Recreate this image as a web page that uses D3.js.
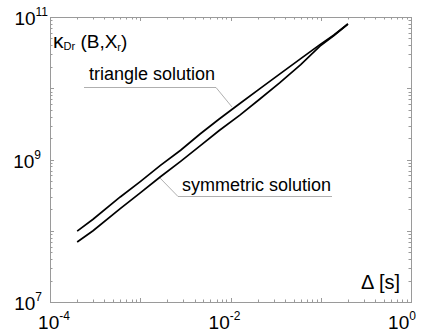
<!DOCTYPE html>
<html>
<head>
<meta charset="utf-8">
<script src="https://cdn.jsdelivr.net/npm/d3@7"></script>
<style>
  body { margin: 0; background: #fff; }
  text { font-family: "Liberation Sans", Arial, sans-serif; }
</style>
</head>
<body>
<div id="chart"></div>
<script>
// Delta [s] values where the curves were read
var deltaT = [2.0e-4, 3.0e-4, 6.0e-4, 1.0e-3, 1.66e-3, 2.8e-3, 4.6e-3, 7.5e-3, 1.27e-2, 2.1e-2, 3.5e-2, 6.0e-2, 9.8e-2, 1.4e-1, 2.0e-1];
var triangle = [9.9e7, 1.45e8, 2.98e8, 4.9e8, 8.2e8, 1.35e9, 2.28e9, 3.7e9, 6.1e9, 9.8e9, 1.58e10, 2.6e10, 4.1e10, 5.6e10, 7.98e10];
var symmetric = [6.95e7, 1.0e8, 2.05e8, 3.4e8, 5.68e8, 9.4e8, 1.55e9, 2.55e9, 4.2e9, 7.0e9, 1.19e10, 2.15e10, 3.9e10, 5.5e10, 7.98e10];

var xTickLabels = [-4, -2, 0];
var yTickLabels = [7, 9, 11];

var width = 423, height = 334;
var margin = {left: 50, right: 12, top: 17, bottom: 32};

var svg = d3.select("#chart").append("svg")
    .attr("width", width)
    .attr("height", height);

var x = d3.scaleLog().domain([1e-4, 1]).range([margin.left, width - margin.right]);
var y = d3.scaleLog().domain([1e7, 1e11]).range([height - margin.bottom, margin.top]);

var grey = "#9a9a9a";

// minor ticks (inside, all four sides)
function logTicks(lo, hi) {
  var t = [];
  for (var e = lo; e < hi; e++) {
    for (var m = 1; m < 10; m++) t.push({v: m * Math.pow(10, e), major: m == 1});
  }
  return t;
}
var xt = logTicks(-4, 0), yt = logTicks(7, 11);

var frame = svg.append("g").attr("stroke", grey).attr("stroke-width", 1);
xt.forEach(function(t) {
  var px = Math.round(x(t.v)) + 0.5, len = t.major ? 4 : 2.5;
  frame.append("line").attr("x1", px).attr("x2", px).attr("y1", y.range()[0]).attr("y2", y.range()[0] - len);
  frame.append("line").attr("x1", px).attr("x2", px).attr("y1", y.range()[1]).attr("y2", y.range()[1] + len);
});
yt.forEach(function(t) {
  var py = Math.round(y(t.v)) + 0.5, len = t.major ? 4 : 2.5;
  frame.append("line").attr("y1", py).attr("y2", py).attr("x1", x.range()[0]).attr("x2", x.range()[0] + len);
  frame.append("line").attr("y1", py).attr("y2", py).attr("x1", x.range()[1]).attr("x2", x.range()[1] - len);
});
frame.append("rect")
    .attr("x", x.range()[0] + 0.5).attr("y", y.range()[1] + 0.5)
    .attr("width", x.range()[1] - x.range()[0]).attr("height", y.range()[0] - y.range()[1])
    .attr("fill", "none");

// tick labels 10^n
var xLab = svg.selectAll(".xlab").data(xTickLabels).enter().append("text")
    .attr("class", "xlab")
    .attr("x", function(d, i) { return x(Math.pow(10, d)) + [4, -6, -9][i]; })
    .attr("y", 329)
    .attr("text-anchor", "middle")
    .attr("font-size", 19);
xLab.append("tspan").text("10");
xLab.append("tspan").attr("dy", -9).attr("font-size", 12).text(function(d) { return d === 0 ? "0" : d; });

var yLab = svg.selectAll(".ylab").data(yTickLabels).enter().append("text")
    .attr("class", "ylab")
    .attr("x", function(d, i) { return [42, 41, 48][i]; })
    .attr("y", function(d) { return y(Math.pow(10, d)) + 8; })
    .attr("text-anchor", "end")
    .attr("font-size", 19);
yLab.append("tspan").text("10");
yLab.append("tspan").attr("dy", -9).attr("font-size", 12).text(function(d) { return d; });

// curves
var line = d3.line()
    .x(function(d) { return x(d[0]); })
    .y(function(d) { return y(d[1]); });

[triangle, symmetric].forEach(function(s) {
  svg.append("path")
      .datum(deltaT.map(function(t, i) { return [t, s[i]]; }))
      .attr("d", line)
      .attr("fill", "none")
      .attr("stroke", "#000")
      .attr("stroke-width", 1.7);
});

// labels with leader lines
svg.append("text").attr("x", 89).attr("y", 80).attr("font-size", 18).text("triangle solution");
svg.append("polyline").attr("points", "84,87.5 216,87.5 232,107").attr("fill", "none").attr("stroke", grey).attr("stroke-width", 0.8);
svg.append("text").attr("x", 182).attr("y", 191).attr("font-size", 18).text("symmetric solution");
svg.append("polyline").attr("points", "160,178 178,196.5 332,196.5").attr("fill", "none").attr("stroke", grey).attr("stroke-width", 0.8);

// axis titles
var yt1 = svg.append("text").attr("x", 53).attr("y", 48).attr("font-size", 19);
yt1.append("tspan").attr("font-size", 21).text("\u03ba");
yt1.append("tspan").attr("font-size", 11).attr("dy", 2).text("Dr");
yt1.append("tspan").attr("dy", -2).text(" (B,X");
yt1.append("tspan").attr("font-size", 11).attr("dy", 3).text("r");
yt1.append("tspan").attr("dy", -3).text(")");

svg.append("text").attr("x", 400).attr("y", 289).attr("text-anchor", "end").attr("font-size", 20).text("\u0394 [s]");
</script>
</body>
</html>
